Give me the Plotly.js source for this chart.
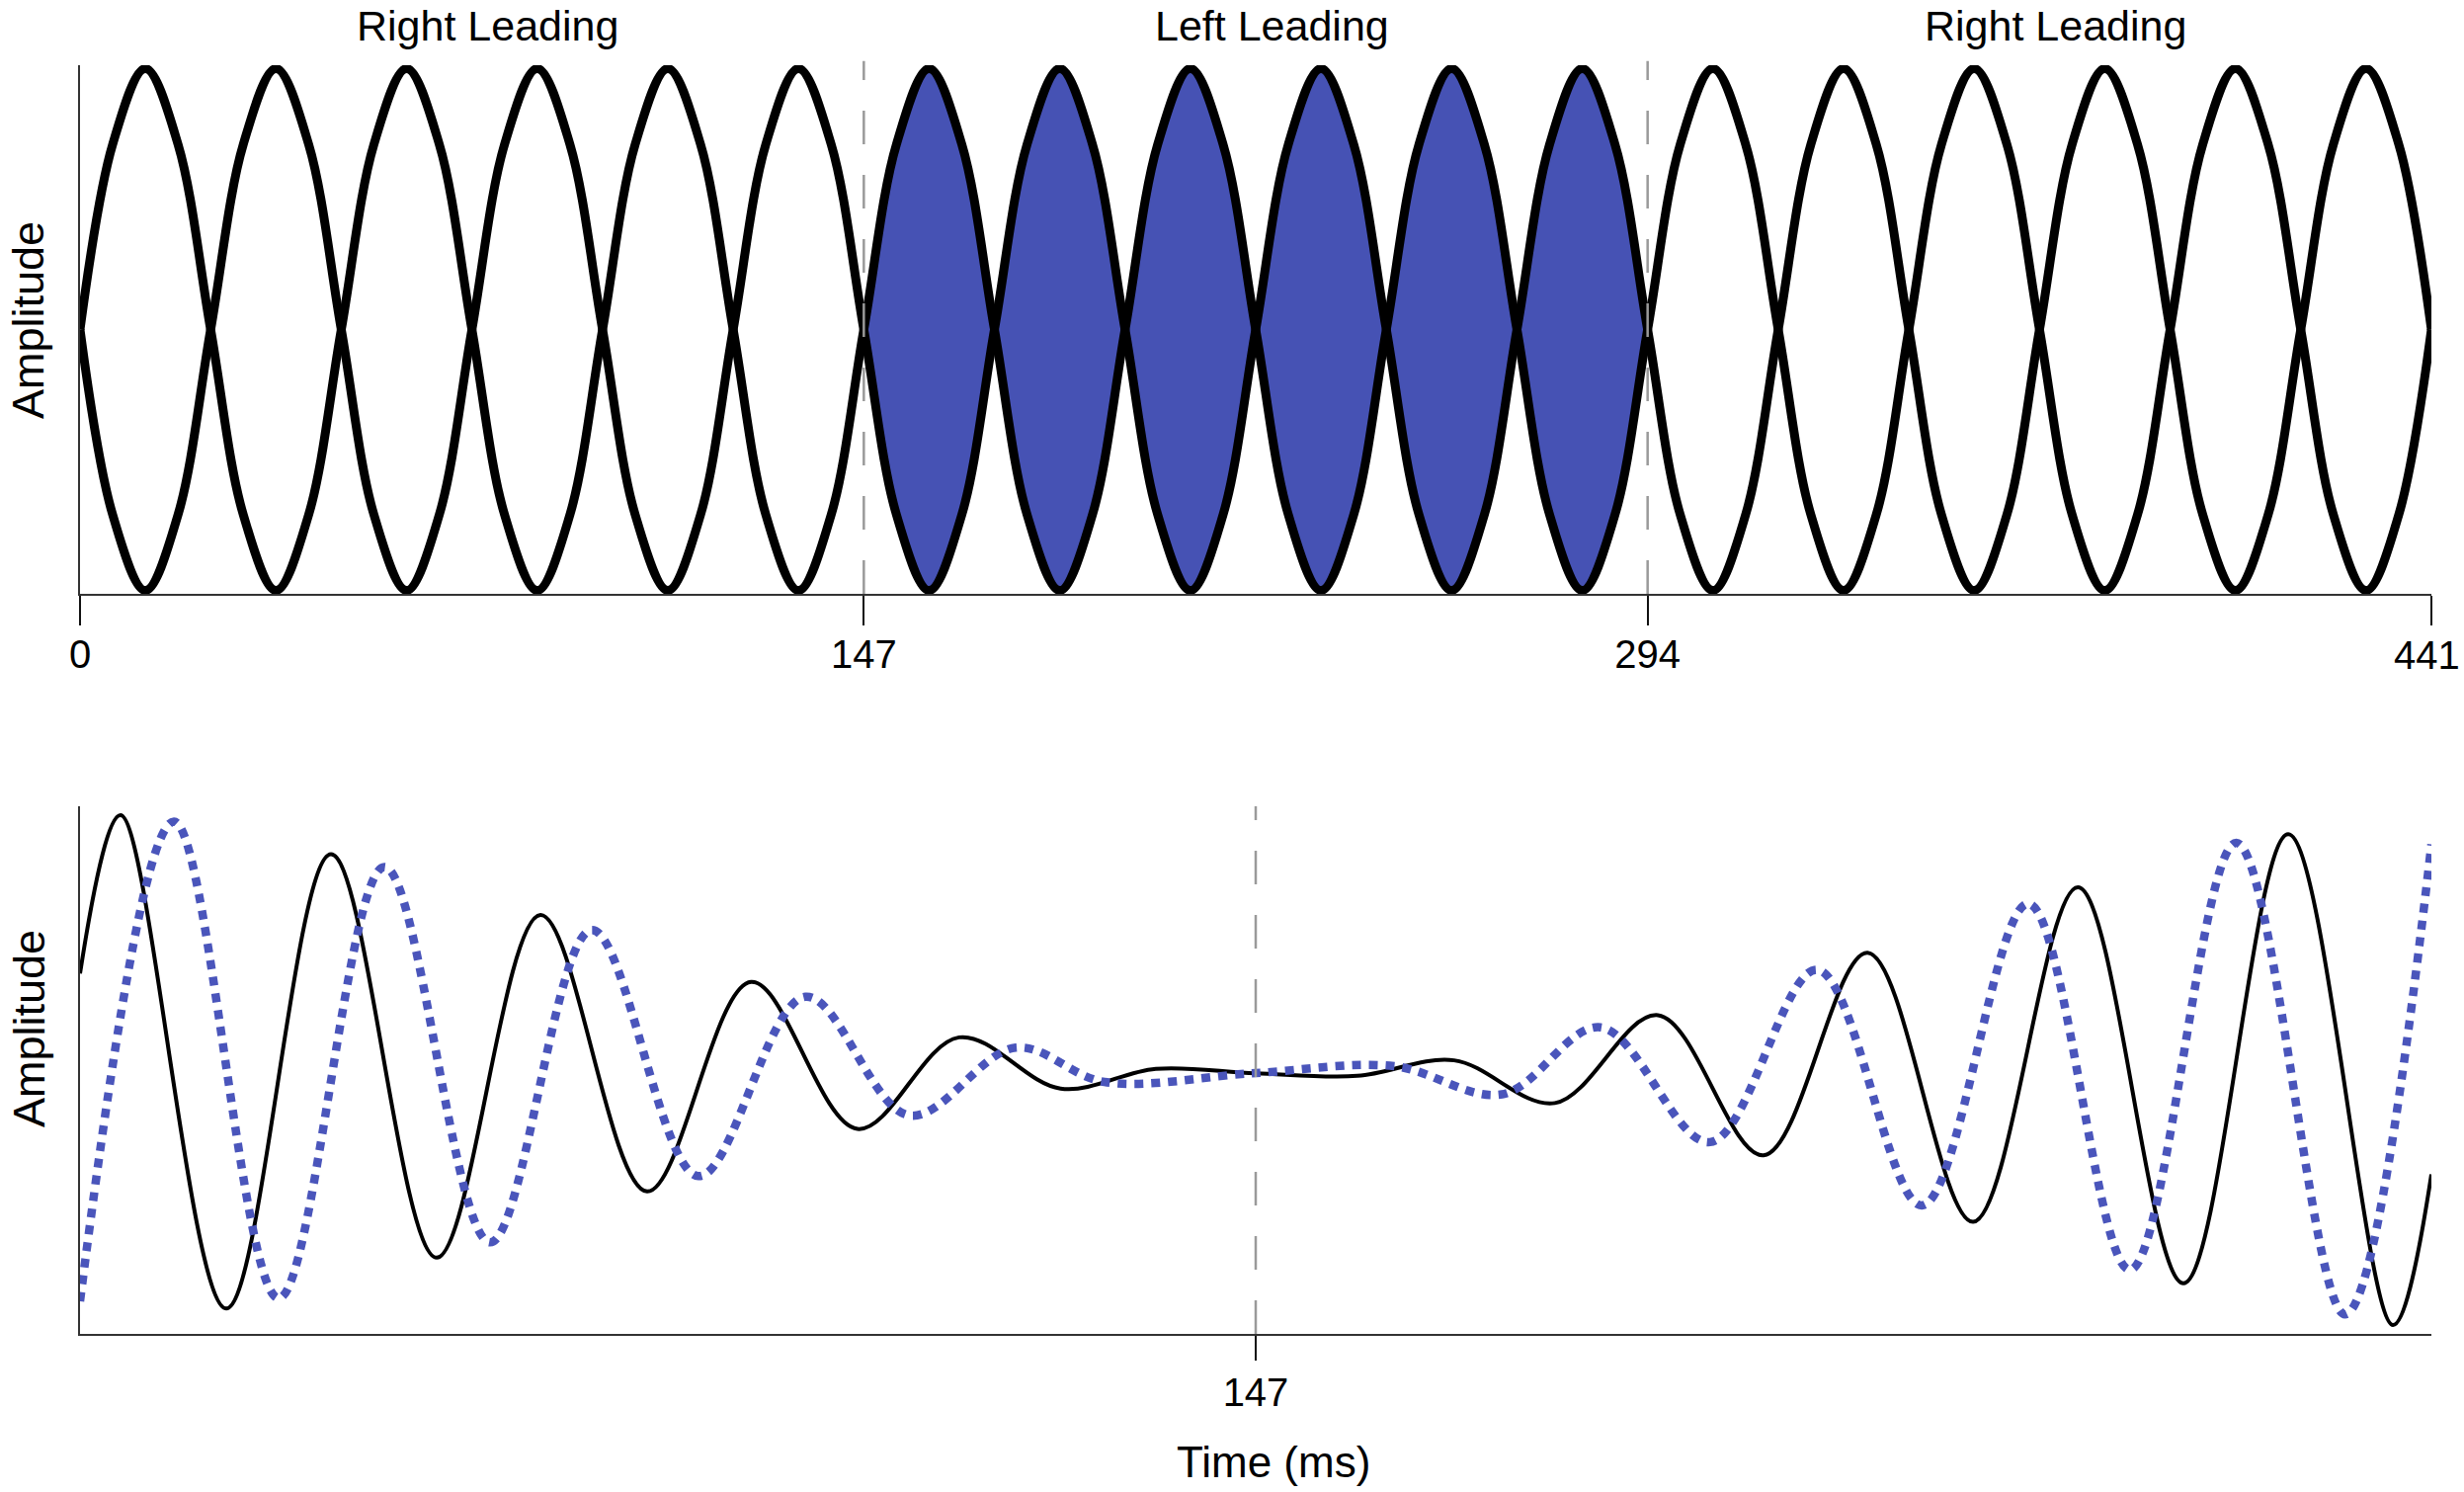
<!DOCTYPE html>
<html>
<head>
<meta charset="utf-8">
<script src="https://cdn.plot.ly/plotly-3.0.1.min.js"></script>
<style>
  html, body { margin: 0; padding: 0; background: #ffffff; }
  #chart { width: 2494px; height: 1510px; }
</style>
</head>
<body>
<div id="chart"></div>
<script>
// ---------- DATA ----------
// Top panel: sample times (ms) and the two ear signals
const tTop = [0, 6.125, 12.25, 18.375, 24.5, 30.625, 36.75, 42.875, 49, 55.125, 61.25, 67.375,
  73.5, 79.625, 85.75, 91.875, 98, 104.125, 110.25, 116.375, 122.5, 128.625, 134.75, 140.875,
  147, 153.125, 159.25, 165.375, 171.5, 177.625, 183.75, 189.875, 196, 202.125, 208.25, 214.375,
  220.5, 226.625, 232.75, 238.875, 245, 251.125, 257.25, 263.375, 269.5, 275.625, 281.75, 287.875,
  294, 300.125, 306.25, 312.375, 318.5, 324.625, 330.75, 336.875, 343, 349.125, 355.25, 361.375,
  367.5, 373.625, 379.75, 385.875, 392, 398.125, 404.25, 410.375, 416.5, 422.625, 428.75, 434.875, 441];
const leftEar = [0, 0.71, 1, 0.71, 0, -0.71, -1, -0.71,
  0, 0.71, 1, 0.71, 0, -0.71, -1, -0.71,
  0, 0.71, 1, 0.71, 0, -0.71, -1, -0.71,
  0, 0.71, 1, 0.71, 0, -0.71, -1, -0.71,
  0, 0.71, 1, 0.71, 0, -0.71, -1, -0.71,
  0, 0.71, 1, 0.71, 0, -0.71, -1, -0.71,
  0, 0.71, 1, 0.71, 0, -0.71, -1, -0.71,
  0, 0.71, 1, 0.71, 0, -0.71, -1, -0.71,
  0, 0.71, 1, 0.71, 0, -0.71, -1, -0.71, 0];
const rightEar = [0, -0.71, -1, -0.71, 0, 0.71, 1, 0.71,
  0, -0.71, -1, -0.71, 0, 0.71, 1, 0.71,
  0, -0.71, -1, -0.71, 0, 0.71, 1, 0.71,
  0, -0.71, -1, -0.71, 0, 0.71, 1, 0.71,
  0, -0.71, -1, -0.71, 0, 0.71, 1, 0.71,
  0, -0.71, -1, -0.71, 0, 0.71, 1, 0.71,
  0, -0.71, -1, -0.71, 0, 0.71, 1, 0.71,
  0, -0.71, -1, -0.71, 0, 0.71, 1, 0.71,
  0, -0.71, -1, -0.71, 0, 0.71, 1, 0.71, 0];

const segmentBounds = [0, 147, 294, 441];
const segmentLabels = ['Right Leading', 'Left Leading', 'Right Leading'];
const filledSegment = [147, 294];
const topTicks = [0, 147, 294, 441];

// Bottom panel: extrema of the two signals (time ms, amplitude)
const tBlack = [0, 5.06, 18.28, 31.38, 44.6, 57.57, 70.9, 83.9, 97.2, 109.9, 122.6, 134.5,
  147, 159.7, 171.8, 184.4, 197.3, 210.5, 223.5, 236.7, 249.8, 263.0, 276.1, 289.2, 294];
const yBlack = [0.366, 0.966, -0.904, 0.818, -0.711, 0.588, -0.46, 0.334, -0.223, 0.124, -0.07, 0.005,
  -0.012, -0.022, 0.037, -0.125, 0.208, -0.323, 0.445, -0.575, 0.693, -0.808, 0.894, -0.966, -0.395];
const tBlue = [0, 11.74, 24.83, 38.05, 51.27, 63.99, 77.33, 90.7, 103.7, 117.0, 128.1,
  147, 164.3, 177.8, 190.1, 203.8, 217.2, 230.3, 243.6, 256.3, 269.6, 283.2, 294];
const yBlue = [-0.876, 0.942, -0.865, 0.77, -0.653, 0.531, -0.402, 0.278, -0.172, 0.085, -0.045,
  -0.011, 0.015, -0.092, 0.162, -0.273, 0.38, -0.513, 0.631, -0.757, 0.861, -0.926, 0.856];
const bottomTicks = [147];
const bottomMarker = 147;

// ---------- STYLE ----------
const FONT = 'Liberation Sans, Arial, Helvetica, sans-serif';
const FILL = '#4652b4';
const BLUE = '#4a55bb';
const DASHGREY = '#9a9a9a';
const TICKSIZE = 40;

const i0 = tTop.indexOf(filledSegment[0]);
const i1 = tTop.indexOf(filledSegment[1]);

const traces = [
  { x: tTop.slice(i0, i1 + 1), y: leftEar.slice(i0, i1 + 1), xaxis: 'x', yaxis: 'y',
    mode: 'lines', line: { width: 0, shape: 'spline', color: FILL }, hoverinfo: 'skip' },
  { x: tTop.slice(i0, i1 + 1), y: rightEar.slice(i0, i1 + 1), xaxis: 'x', yaxis: 'y',
    mode: 'lines', fill: 'tonexty', fillcolor: FILL, line: { width: 0, shape: 'spline', color: FILL }, hoverinfo: 'skip' },
  { x: tTop, y: leftEar, xaxis: 'x', yaxis: 'y', mode: 'lines',
    line: { color: '#000000', width: 9, shape: 'spline' } },
  { x: tTop, y: rightEar, xaxis: 'x', yaxis: 'y', mode: 'lines',
    line: { color: '#000000', width: 9, shape: 'spline' } },
  { x: tBlack, y: yBlack, xaxis: 'x2', yaxis: 'y2', mode: 'lines',
    line: { color: '#000000', width: 4, shape: 'spline' } },
  { x: tBlue, y: yBlue, xaxis: 'x2', yaxis: 'y2', mode: 'lines',
    line: { color: BLUE, width: 8.5, shape: 'spline', dash: '9px,8px' } }
];

const L = 81, R = 33, T = 66, B = 160, H = 1510;
const plotH = H - T - B;
const py = (pix) => (H - B - pix) / plotH;          // pixel row -> paper y
const px = (pix) => (pix - L) / (2494 - L - R);      // pixel col -> paper x

const axisCommon = {
  showgrid: false, zeroline: false, showline: true, linecolor: '#333333', linewidth: 2,
  fixedrange: true
};

// last top tick label sits against the page edge: draw it as an annotation nudged inwards
const lastTop = topTicks[topTicks.length - 1];
const topTickText = topTicks.map((v, k) => k === topTicks.length - 1 ? '' : String(v));

const annotations = [];
for (let k = 0; k < segmentLabels.length; k++) {
  annotations.push({
    text: segmentLabels[k], xref: 'x', yref: 'paper',
    x: (segmentBounds[k] + segmentBounds[k + 1]) / 2, xshift: 16,
    y: py(26), xanchor: 'center', yanchor: 'middle', showarrow: false,
    font: { family: FONT, size: 43, color: '#000000' }
  });
}
annotations.push({ text: String(lastTop), xref: 'x', yref: 'paper', x: lastTop, xshift: -5,
  y: py(663), xanchor: 'center', yanchor: 'middle', showarrow: false,
  font: { family: FONT, size: TICKSIZE, color: '#000000' } });
annotations.push({ text: 'Amplitude', textangle: -90, xref: 'paper', yref: 'paper',
  x: px(29), y: py(324), xanchor: 'center', yanchor: 'middle', showarrow: false,
  font: { family: FONT, size: 45, color: '#000000' } });
annotations.push({ text: 'Amplitude', textangle: -90, xref: 'paper', yref: 'paper',
  x: px(29), y: py(1041), xanchor: 'center', yanchor: 'middle', showarrow: false,
  font: { family: FONT, size: 45, color: '#000000' } });
annotations.push({ text: 'Time (ms)', xref: 'paper', yref: 'paper',
  x: px(1289), y: py(1479), xanchor: 'center', yanchor: 'middle', showarrow: false,
  font: { family: FONT, size: 44, color: '#000000' } });

const shapes = [];
[filledSegment[0], filledSegment[1]].forEach(v => shapes.push({
  type: 'line', xref: 'x', yref: 'y domain', x0: v, x1: v, y0: 0, y1: 1.008,
  line: { color: DASHGREY, width: 2.5, dash: '34px,31px' }, layer: 'above'
}));
shapes.push({
  type: 'line', xref: 'x2', yref: 'y2 domain', x0: bottomMarker, x1: bottomMarker, y0: 0, y1: 1,
  line: { color: DASHGREY, width: 2.5, dash: '34px,31px' }, layer: 'above'
});

const layout = {
  width: 2494, height: 1510,
  margin: { l: L, r: R, t: T, b: B, pad: 0 },
  paper_bgcolor: '#ffffff', plot_bgcolor: '#ffffff',
  showlegend: false,
  font: { family: FONT, color: '#000000' },
  xaxis: Object.assign({}, axisCommon, {
    domain: [0, 1], anchor: 'y', range: [0, 441],
    tickmode: 'array', tickvals: topTicks, ticktext: topTickText,
    ticks: 'outside', ticklen: 30, tickwidth: 2, tickcolor: '#111111',
    ticklabelstandoff: -5,
    tickfont: { family: FONT, size: TICKSIZE, color: '#000000' }
  }),
  yaxis: Object.assign({}, axisCommon, {
    domain: [py(601), 1], anchor: 'x', range: [-1.013, 1.013],
    showticklabels: false, ticks: ''
  }),
  xaxis2: Object.assign({}, axisCommon, {
    domain: [0, 1], anchor: 'y2', range: [0, 294],
    tickmode: 'array', tickvals: bottomTicks, ticktext: bottomTicks.map(String),
    ticks: 'outside', ticklen: 25, tickwidth: 2, tickcolor: '#111111',
    ticklabelstandoff: -2,
    tickfont: { family: FONT, size: TICKSIZE, color: '#000000' }
  }),
  yaxis2: Object.assign({}, axisCommon, {
    domain: [0, py(816)], anchor: 'x2', range: [-1, 1],
    showticklabels: false, ticks: ''
  }),
  annotations: annotations,
  shapes: shapes
};

Plotly.newPlot('chart', traces, layout, { displayModeBar: false, staticPlot: true });
</script>
</body>
</html>
